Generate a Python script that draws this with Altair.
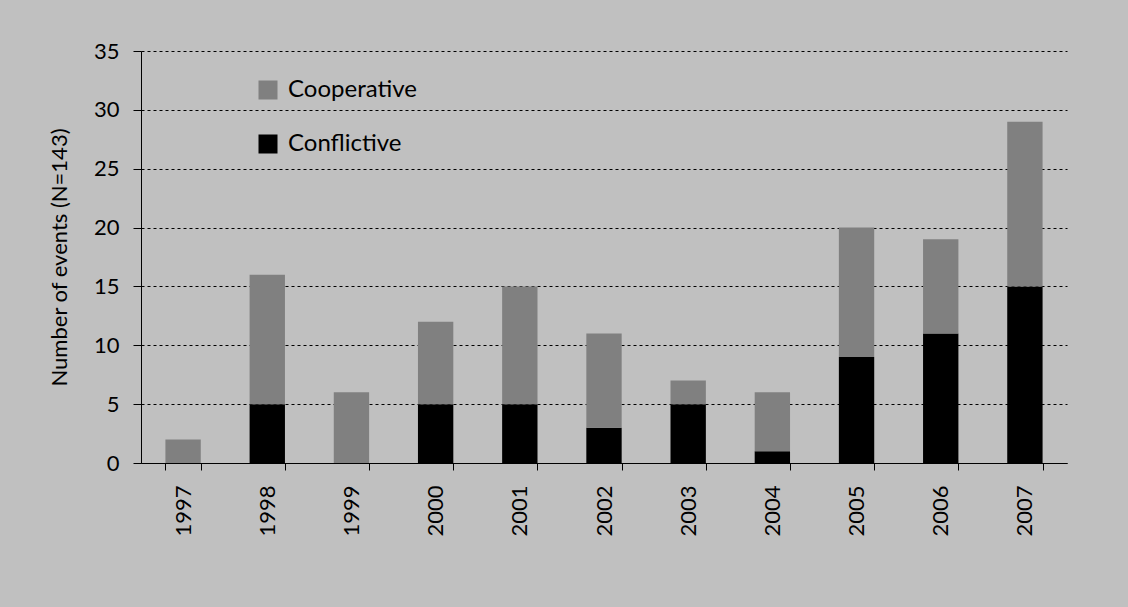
import altair as alt
import pandas as pd

years = ["1997", "1998", "1999", "2000", "2001", "2002", "2003", "2004", "2005", "2006", "2007"]
conflictive = [0, 5, 0, 5, 5, 3, 5, 1, 9, 11, 15]
cooperative = [2, 11, 6, 7, 10, 8, 2, 5, 11, 8, 14]

rows = []
for y, c, p in zip(years, conflictive, cooperative):
    rows.append({"year": y, "type": "Conflictive", "value": c, "ord": 0})
    rows.append({"year": y, "type": "Cooperative", "value": p, "ord": 1})
df = pd.DataFrame(rows)

FONT = "Lato"

chart = alt.Chart(df).mark_bar().encode(
    x=alt.X("year:N", sort=years, title=None,
            scale=alt.Scale(paddingInner=0.58, paddingOuter=0.29),
            axis=alt.Axis(labelAngle=-90, tickBand="extent", tickSize=7, labelPadding=15,
                          domainColor="black", tickColor="black", labelColor="black",
                          labelFontSize=22, labelFont=FONT, grid=False)),
    y=alt.Y("value:Q", stack="zero", title="Number of events (N=143)",
            scale=alt.Scale(domain=[0, 35], nice=False),
            axis=alt.Axis(values=[0, 5, 10, 15, 20, 25, 30, 35], tickSize=8, labelPadding=14,
                          domainColor="black", tickColor="black", labelColor="black",
                          labelFontSize=22, labelFont=FONT, titleFontSize=22, titleFont=FONT,
                          titleFontWeight="normal", titleColor="black", titlePadding=22,
                          grid=True, gridColor="black", gridDash=[3, 3], gridWidth=1)),
    color=alt.Color("type:N", scale=alt.Scale(domain=["Cooperative", "Conflictive"],
                                              range=["#808080", "#000000"]),
                    legend=alt.Legend(title=None, orient="none", legendX=115, legendY=27,
                                      symbolType="square", symbolSize=361, symbolStrokeWidth=0,
                                      symbolOpacity=1, labelFontSize=24, labelFont=FONT,
                                      labelColor="black", rowPadding=30, labelOffset=8)),
    order=alt.Order("ord:Q"),
).properties(
    width=926, height=412,
    background="#c0c0c0",
    padding={"left": 141, "top": 51, "right": 61, "bottom": 144},
    autosize=alt.AutoSizeParams(type="none"),
).configure_view(stroke=None, fill=None)

chart.save("out.html", embed_options={"renderer": "svg", "actions": False})
